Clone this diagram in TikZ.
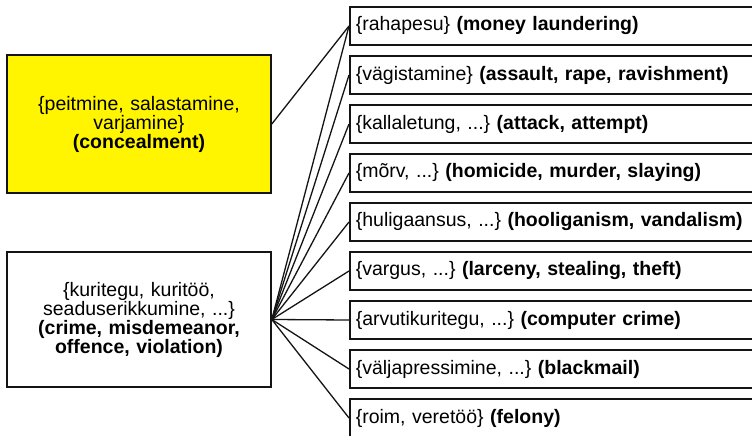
\documentclass[tikz,border=0pt]{standalone}
\usepackage{fontspec}
\setmainfont{Liberation Sans}
\usetikzlibrary{positioning}
\definecolor{synyellow}{RGB}{255,245,0}
\definecolor{synline}{RGB}{20,20,20}

\begin{document}
\frenchspacing
\begin{tikzpicture}[x=1pt,y=1pt,font=\fontsize{19.5}{19}\selectfont,
  synset/.style={draw=synline,line width=1.6pt,align=center,text width=256pt,inner sep=0pt,minimum width=264pt},
  hypo/.style={draw=synline,line width=1.6pt,anchor=west,align=left,text width=408pt,inner xsep=6pt,inner ysep=0pt,minimum height=38pt},
  link/.style={draw=synline,line width=1.3pt}]
\clip (0,0) rectangle (752,436);
\fill[white] (0,0) rectangle (752,436);
% the two hypernym sets on the left
\node[synset,fill=synyellow,minimum height=138pt] (concealment) at (139,312) {\{peitmine, salastamine,\\varjamine\}\\\textbf{(concealment)}};
\node[synset,minimum height=135pt] (crime) at (139,116.5) {\{kuritegu, kuritöö,\\seaduserikkumine, ...\}\\\textbf{(crime, misdemeanor,}\\\textbf{offence, violation)}};
% hyponyms
\node[hypo] (laundering) at (349,410) {\{rahapesu\} \textbf{(money laundering)}};
\node[hypo] (rape) at (349,361) {\{vägistamine\} \textbf{(assault, rape, ravishment)}};
\node[hypo] (attack) at (349,312) {\{kallaletung, ...\} \textbf{(attack, attempt)}};
\node[hypo] (murder) at (349,263) {\{mõrv, ...\} \textbf{(homicide, murder, slaying)}};
\node[hypo] (vandalism) at (349,214) {\{huligaansus, ...\} \textbf{(hooliganism, vandalism)}};
\node[hypo] (theft) at (349,165) {\{vargus, ...\} \textbf{(larceny, stealing, theft)}};
\node[hypo] (computer) at (349,116) {\{arvutikuritegu, ...\} \textbf{(computer crime)}};
\node[hypo] (blackmail) at (349,67) {\{väljapressimine, ...\} \textbf{(blackmail)}};
\node[hypo] (felony) at (349,18) {\{roim, veretöö\} \textbf{(felony)}};
\draw[link] (concealment.east) -- (laundering.west);
\draw[link] (crime.east) -- (laundering.west);
\draw[link] (crime.east) -- (rape.west);
\draw[link] (crime.east) -- (attack.west);
\draw[link] (crime.east) -- (murder.west);
\draw[link] (crime.east) -- (vandalism.west);
\draw[link] (crime.east) -- (theft.west);
\draw[link] (crime.east) -- (computer.west);
\draw[link] (crime.east) -- (blackmail.west);
\draw[link] (crime.east) -- (felony.west);
\end{tikzpicture}
\end{document}
